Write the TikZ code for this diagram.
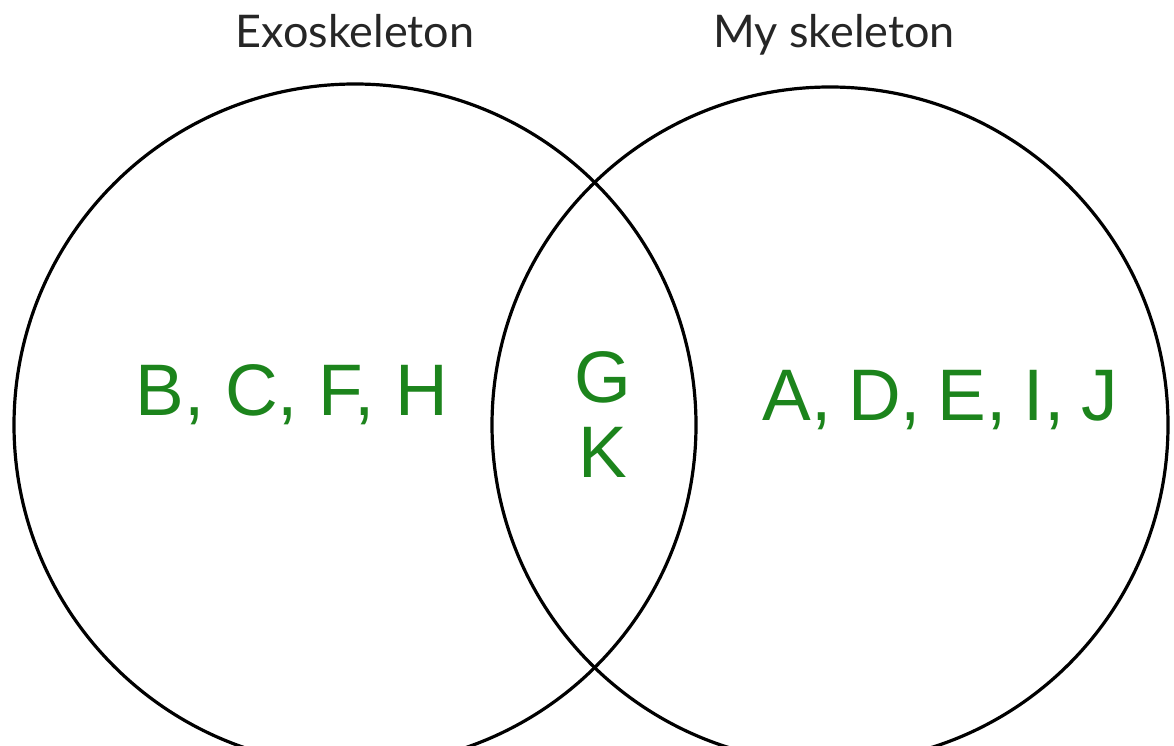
\documentclass[tikz,border=0pt]{standalone}
\usepackage{fontspec}
\setmainfont{Liberation Sans}
\newfontfamily\titlefont{Lato}
\definecolor{vgreen}{RGB}{28,132,28}
\begin{document}
\begin{tikzpicture}[x=1pt,y=-1pt,
  setcircle/.style={draw=black,line width=3.2pt},
  settitle/.style={font=\titlefont\fontsize{45}{50}\selectfont,text=black!85,inner sep=0pt},
  member/.style={font=\fontsize{73}{80}\selectfont,text=vgreen,inner sep=0pt,align=center}]
\useasboundingbox (0,0) rectangle (1174,746);
\begin{scope}
\clip (0,0) rectangle (1174,746);
\node[setcircle,circle,minimum size=682pt,inner sep=0pt] (exo) at (355,425) {};
\node[setcircle,circle,minimum size=676pt,inner sep=0pt] (my) at (830,425) {};
\end{scope}
\node[settitle,anchor=base] (t1) at (355,48) {Exoskeleton};
\node[settitle,anchor=base] (t2) at (834,48) {My skeleton};
\node[member,anchor=base] (left) at (292,415) {B, C, F, H};
\node[member,anchor=base] (g) at (603,402) {G};
\node[member,anchor=base] (k) at (603,477) {K};
\node[member,anchor=base] (right) at (940,420) {\spaceskip=16.8pt A, D, E, I, J};
\end{tikzpicture}
\end{document}
